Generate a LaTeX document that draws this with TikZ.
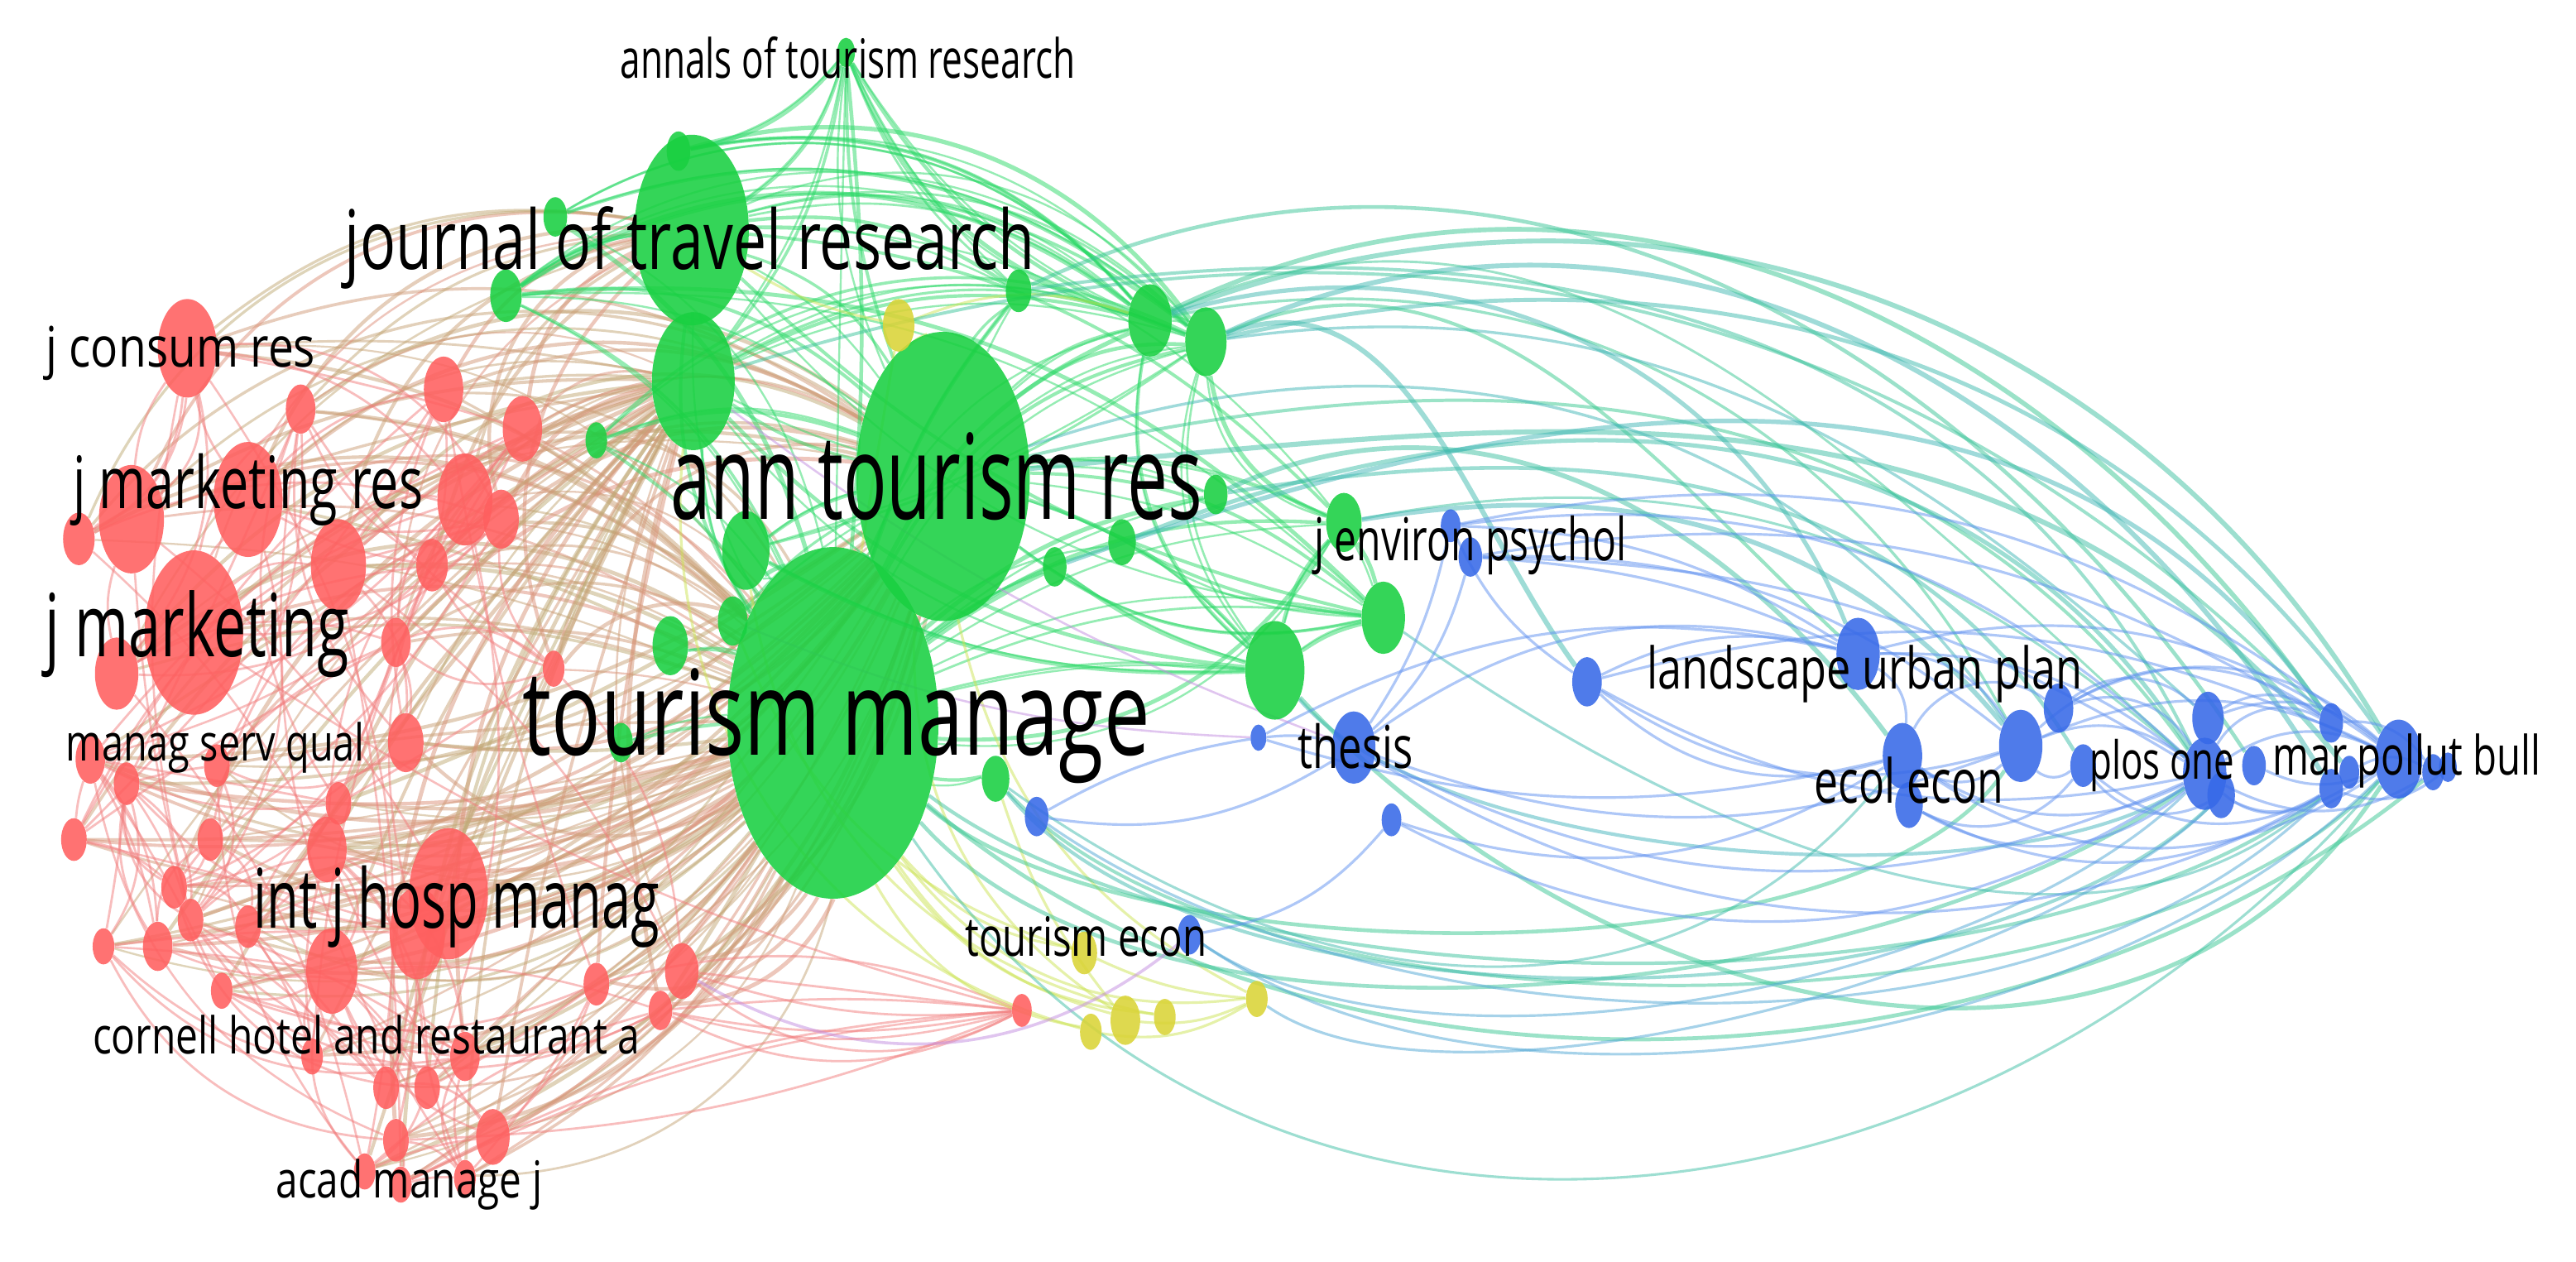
\documentclass[tikz,border=0pt]{standalone}
\usepackage{fontspec}
\setmainfont{Open Sans}
\usetikzlibrary{shapes.geometric}
\pgfdeclarelayer{bg}
\pgfsetlayers{bg,main}
\definecolor{nred}{RGB}{255,95,95}
\definecolor{ngreen}{RGB}{25,208,65}
\definecolor{nblue}{RGB}{55,105,232}
\definecolor{nyellow}{RGB}{218,212,55}
\definecolor{ered}{RGB}{242,125,125}
\definecolor{etan}{RGB}{180,180,115}
\definecolor{egreen}{RGB}{45,218,105}
\definecolor{eteal}{RGB}{70,175,200}
\definecolor{eblue}{RGB}{95,145,240}
\definecolor{eyel}{RGB}{205,228,85}
\definecolor{epurp}{RGB}{195,140,225}
\tikzset{
  vn/.style={ellipse, inner sep=0pt, draw=none, fill opacity=0.88},
  ed/.style={line width=1.6pt, draw opacity=0.5},
  lab/.style={inner sep=0pt, text=black},
}
\newcommand\vn[5]{\node[vn,fill=#5,minimum width={1.2*#4pt},minimum height={2*#4pt}] (#1) at (#2,#3) {};}
\newcommand\lab[6]{\node[lab] (#1) at (#2,#3) {\resizebox{#5pt}{\height}{\fontsize{#4}{#4}\selectfont #6}};}
\begin{document}
\begin{tikzpicture}[x=1pt,y=-1pt]
\useasboundingbox (0,0) rectangle (1568,768);
% ---------- green nodes
\vn{TM}{507}{440}{107}{ngreen}
\vn{ATR}{574}{290}{88}{ngreen}
\vn{JTR}{421}{140}{58}{ngreen}
\vn{JT2}{422}{232}{42}{ngreen}
\vn{AN}{515}{32}{9}{ngreen}
\vn{G1}{308}{180}{16}{ngreen}
\vn{G2}{363}{268}{11}{ngreen}
\vn{G3}{454}{335}{24}{ngreen}
\vn{G4}{408}{393}{18}{ngreen}
\vn{G5}{446}{378}{15}{ngreen}
\vn{G6}{620}{177}{13}{ngreen}
\vn{G7}{700}{195}{22}{ngreen}
\vn{G8}{734}{208}{21}{ngreen}
\vn{G9}{740}{301}{12}{ngreen}
\vn{G10}{683}{330}{14}{ngreen}
\vn{G11}{642}{345}{12}{ngreen}
\vn{G12}{606}{474}{14}{ngreen}
\vn{G13}{776}{408}{30}{ngreen}
\vn{G14}{842}{376}{22}{ngreen}
\vn{G15}{818}{318}{18}{ngreen}
\vn{G16}{378}{452}{12}{ngreen}
\vn{G17}{413}{92}{12}{ngreen}
\vn{G18}{338}{132}{12}{ngreen}
% ---------- yellow nodes
\vn{Y1}{547}{198}{16}{nyellow}
\vn{Y2}{660}{580}{13}{nyellow}
\vn{Y3}{664}{628}{11}{nyellow}
\vn{Y4}{685}{621}{15}{nyellow}
\vn{Y5}{709}{619}{11}{nyellow}
\vn{Y6}{765}{608}{11}{nyellow}
% ---------- blue nodes
\vn{B1}{883}{320}{10}{nblue}
\vn{B2}{895}{339}{12}{nblue}
\vn{B3}{966}{415}{15}{nblue}
\vn{B4}{824}{455}{22}{nblue}
\vn{B5}{847}{499}{10}{nblue}
\vn{B6}{766}{449}{8}{nblue}
\vn{B7}{631}{497}{12}{nblue}
\vn{B8}{724}{569}{12}{nblue}
\vn{B9}{1131}{398}{22}{nblue}
\vn{B10}{1158}{460}{20}{nblue}
\vn{B11}{1162}{490}{14}{nblue}
\vn{B12}{1230}{454}{22}{nblue}
\vn{B13}{1253}{431}{15}{nblue}
\vn{B14}{1268}{466}{13}{nblue}
\vn{B15}{1344}{437}{16}{nblue}
\vn{B16}{1342}{471}{22}{nblue}
\vn{B17}{1352}{484}{14}{nblue}
\vn{B18}{1372}{466}{12}{nblue}
\vn{B19}{1419}{440}{12}{nblue}
\vn{B20}{1419}{480}{12}{nblue}
\vn{B21}{1430}{470}{10}{nblue}
\vn{B22}{1460}{462}{24}{nblue}
\vn{B23}{1481}{470}{11}{nblue}
\vn{B24}{1490}{467}{9}{nblue}
% ---------- red nodes
\vn{R5}{118}{385}{50}{nred}
\vn{R29}{273}{544}{40}{nred}
\vn{R3}{151}{304}{35}{nred}
\vn{R2}{80}{316}{33}{nred}
\vn{R1}{114}{212}{30}{nred}
\vn{R30}{254}{568}{28}{nred}
\vn{R7}{206}{344}{28}{nred}
\vn{R8}{283}{304}{28}{nred}
\vn{R31}{202}{591}{26}{nred}
\vn{R6}{71}{410}{22}{nred}
\vn{R9}{270}{237}{20}{nred}
\vn{R10}{318}{261}{20}{nred}
\vn{R28}{199}{517}{20}{nred}
\vn{R12}{305}{316}{18}{nred}
\vn{R15}{247}{452}{18}{nred}
\vn{R4}{48}{328}{16}{nred}
\vn{R13}{263}{344}{16}{nred}
\vn{R11}{183}{249}{15}{nred}
\vn{R14}{241}{391}{15}{nred}
\vn{R20}{55}{462}{15}{nred}
\vn{R24}{96}{576}{15}{nred}
\vn{R32}{283}{643}{15}{nred}
\vn{R37}{300}{692}{17}{nred}
\vn{R43}{415}{591}{17}{nred}
\vn{R16}{337}{407}{11}{nred}
\vn{R17}{206}{489}{13}{nred}
\vn{R18}{128}{511}{13}{nred}
\vn{R19}{45}{511}{13}{nred}
\vn{R21}{77}{477}{13}{nred}
\vn{R22}{132}{466}{13}{nred}
\vn{R23}{106}{540}{13}{nred}
\vn{R25}{63}{576}{11}{nred}
\vn{R26}{151}{564}{13}{nred}
\vn{R27}{116}{560}{13}{nred}
\vn{R33}{235}{662}{13}{nred}
\vn{R34}{260}{662}{13}{nred}
\vn{R35}{190}{643}{11}{nred}
\vn{R36}{241}{694}{13}{nred}
\vn{R38}{222}{713}{11}{nred}
\vn{R39}{244}{721}{11}{nred}
\vn{R40}{283}{717}{11}{nred}
\vn{R41}{135}{603}{11}{nred}
\vn{R42}{363}{599}{13}{nred}
\vn{R44}{402}{615}{12}{nred}
\vn{R45}{622}{615}{10}{nred}
% ================= edges
\begin{pgfonlayer}{bg}
\fill[white] (0,0) rectangle (1568,768);
\pgfmathsetseed{31}
% red -> green hubs (upper red nodes)
\foreach \ra in {1,2,3,4,5,6,7,8,9,10,11,12,13,14,16}{
  \foreach \tg/\lo/\hi in {TM/15/40,ATR/20/45,JTR/20/45,JT2/5/30,TM/5/25}{
    \pgfmathsetmacro\bb{\lo+(\hi-\lo)*rnd}
    \pgfmathsetmacro\lw{1.1+1.4*rnd}
    \pgfmathtruncatemacro\mm{15+55*rnd}
    \draw[ed,ered!\mm!etan,line width=\lw pt] (R\ra) to[bend left=\bb] (\tg);
  }
}
% red -> green hubs (lower red nodes)
\foreach \ra in {15,17,18,19,20,21,22,23,24,25,26,27,28,29,30,31,32,33,34,35,36,37,38,39,40,41,42,43,44}{
  \foreach \tg/\lo/\hi in {TM/-40/-10,ATR/-30/-5,JT2/0/25,TM/-20/5}{
    \pgfmathsetmacro\bb{\lo+(\hi-\lo)*rnd}
    \pgfmathsetmacro\lw{1.1+1.4*rnd}
    \pgfmathtruncatemacro\mm{15+55*rnd}
    \draw[ed,ered!\mm!etan,line width=\lw pt] (R\ra) to[bend left=\bb] (\tg);
  }
}
% red - red
\foreach \ra in {1,...,45}{
  \foreach \k in {1,2,3}{
    \pgfmathtruncatemacro\jj{max(1,min(45,\ra+int(22*rnd)-11))}
    \pgfmathsetmacro\bb{-35+70*rnd}
    \ifnum\jj=\ra\relax\else
      \draw[ed,ered,line width=1.4pt] (R\ra) to[bend left=\bb] (R\jj);
    \fi
  }
  \pgfmathtruncatemacro\jj{1+int(44.99*rnd)}
  \pgfmathsetmacro\bb{-30+60*rnd}
  \ifnum\jj=\ra\relax\else
    \draw[ed,ered,line width=1.3pt] (R\ra) to[bend left=\bb] (R\jj);
  \fi
}
% green - green
\foreach \a/\b/\c in {TM/ATR/15,TM/JTR/20,TM/JT2/15,ATR/JTR/-20,ATR/JT2/10,JTR/JT2/0,
  AN/JTR/20,AN/JT2/15,AN/ATR/-10,AN/G6/-15,AN/G7/-25,AN/TM/5,AN/G17/20,AN/G8/-20,
  G1/TM/20,G1/ATR/25,G1/JTR/15,G1/G7/35,G1/G8/35,G18/G8/30,G18/TM/20,G17/G7/30,
  JTR/G7/25,JTR/G8/30,JTR/G6/20,JT2/G7/20,JT2/G8/25,G2/TM/10,G2/ATR/20,G3/ATR/10,
  G3/TM/10,G4/TM/10,G5/TM/0,G5/ATR/10,G6/TM/-10,G6/ATR/-10,G7/TM/-20,G7/ATR/-15,
  G8/TM/-25,G8/ATR/-20,G9/TM/-15,G9/ATR/-10,G10/TM/-10,G11/TM/-5,G12/TM/10,
  G13/TM/-10,G13/ATR/-15,G14/TM/-15,G14/ATR/-20,G15/ATR/-15,G15/TM/-20,G16/TM/5,
  G13/G14/10,G15/G14/10,G13/G15/15,G7/G8/20,G8/G15/-30,G7/G13/-30,G8/G13/-25,
  G18/G7/40,G17/G8/35,JTR/G14/-15,JT2/G13/-20,G1/G14/25,ATR/G14/-25,TM/G15/-30,
  G3/G13/-15,G11/G13/-10,G10/G14/-10,JTR/G15/20,G2/G8/35,G3/G8/-10}{
  \pgfmathsetmacro\lw{1.2+1.5*rnd}
  \draw[ed,egreen,line width=\lw pt] (\a) to[bend left=\c] (\b);
  \pgfmathsetmacro\bb{\c+15*rnd-7}
  \draw[ed,egreen,line width=1.2pt] (\a) to[bend left=\bb] (\b);
}
% yellow edges
\foreach \a/\b/\c in {Y1/TM/0,Y1/ATR/10,Y1/JTR/10,Y1/G7/20,TM/Y2/-20,TM/Y3/-25,TM/Y4/-20,
  TM/Y5/-25,TM/Y6/-30,ATR/Y4/-30,ATR/Y6/-25,G12/Y4/-10,Y2/Y6/-10,Y4/Y6/-15,G3/Y5/-35,
  JT2/Y3/-40,G5/Y2/-25,Y3/Y6/-20}{
  \draw[ed,eyel,line width=1.6pt] (\a) to[bend left=\c] (\b);
}
% green -> blue upper arcs
\foreach \a/\b in {G7/B22,G7/B16,G7/B19,G7/B12,G8/B22,G8/B15,G8/B20,G8/B9,G6/B18,G6/B16,
  ATR/B21,ATR/B16,ATR/B12,G9/B14,G9/B10,G10/B16,G11/B19,
  G15/B16,G15/B12,JT2/B19,G8/B3,G7/B9}{
  \pgfmathsetmacro\oo{5+22*rnd}
  \pgfmathsetmacro\ii{112+30*rnd}
  \pgfmathsetmacro\lw{1.4+1.8*rnd}
  \pgfmathtruncatemacro\mm{35+55*rnd}
  \draw[ed,eteal!\mm!egreen,line width=\lw pt] (\a) to[out=\oo,in=\ii] (\b);
}
% green -> blue lower arcs
\foreach \a/\b in {TM/B22,TM/B20,TM/B16,TM/B23,G12/B22,G12/B17,G13/B16,G13/B22,
  G14/B20,G12/B10,TM/B12}{
  \pgfmathsetmacro\oo{-30-30*rnd}
  \pgfmathsetmacro\ii{-120-30*rnd}
  \pgfmathsetmacro\lo{0.6+0.5*rnd}
  \pgfmathsetmacro\lw{1.4+1.4*rnd}
  \pgfmathtruncatemacro\mm{40+50*rnd}
  \draw[ed,eteal!\mm!egreen,line width=\lw pt] (\a) to[out=\oo,in=\ii,looseness=\lo] (\b);
}
\foreach \a/\b/\lo in {B7/B20/0.8,B8/B16/0.7,Y6/B17/0.6,B8/B22/0.8}{
  \draw[ed,eteal!70!eblue,line width=1.6pt] (\a) to[out=-35,in=-135,looseness=\lo] (\b);
}
% blue - blue
\foreach \a/\b/\c in {B1/B22/25,B1/B16/25,B2/B19/20,B2/B12/20,B1/B9/15,B2/B9/10,B3/B9/20,
  B3/B12/-25,B3/B10/-30,B3/B16/-20,B4/B1/-10,B4/B2/-15,B4/B9/25,B4/B12/-20,B4/B16/-25,
  B4/B22/-30,B5/B10/-25,B5/B16/-30,B6/B4/10,B6/B9/20,B7/B4/-20,B8/B5/-20,B9/B10/30,
  B9/B16/20,B9/B22/25,B9/B12/30,B10/B12/-40,B10/B16/-30,B10/B22/-35,B11/B14/-40,
  B11/B20/-30,B12/B16/30,B12/B22/25,B12/B19/40,B13/B16/40,B13/B22/35,B14/B17/-40,
  B14/B20/-35,B15/B22/30,B15/B19/35,B16/B22/30,B16/B23/-30,B17/B20/-30,B18/B22/-25,
  B19/B23/30,B20/B24/-30,B21/B23/30,B16/B19/45,B12/B14/-40,B10/B13/50,B11/B16/-35,
  B16/B20/-40,B13/B15/40,B3/B22/20,B2/B16/15,B1/B3/-15,B7/B6/10,B6/B10/-15}{
  \draw[ed,eblue,line width=1.6pt] (\a) to[bend left=\c] (\b);
}
% purple / pink
\draw[ed,epurp,line width=1.8pt] (R43) to[bend right=35] (B8);
\draw[ed,epurp,line width=1.3pt] (JT2) to[bend left=-8] (B4);
\draw[ed,epurp,line width=1.3pt] (G5) to[bend left=-10] (B6);
\draw[ed,ered,line width=1.3pt] (R44) to[bend right=15] (R45);
\end{pgfonlayer}
% ================= labels
\lab{tAN}{516}{35}{33}{277}{annals of tourism research}
\lab{tJTR}{420}{151}{50}{420}{journal of travel research}
\lab{tJCR}{110}{215}{34}{164}{j consum res}
\lab{tJMR}{151}{298}{44}{213}{j marketing res}
\lab{tJM}{120}{386}{53}{185}{j marketing}
\lab{tMSQ}{131}{455}{31}{182}{manag serv qual}
\lab{tIJH}{278}{552}{50}{247}{int j hosp manag}
\lab{tCOR}{223}{630}{31}{333}{cornell hotel and restaurant a}
\lab{tAMJ}{249}{721}{31}{162}{acad manage j}
\lab{tATR}{570}{290}{72}{324}{ann tourism res}
\lab{tTM}{509}{442}{72}{382}{tourism manage}
\lab{tJEP}{895}{332}{36}{190}{j environ psychol}
\lab{tTH}{825}{454}{36}{70}{thesis}
\lab{tTE}{661}{570}{33}{147}{tourism econ}
\lab{tLUP}{1135}{410}{35}{265}{landscape urban plan}
\lab{tEE}{1162}{475}{37}{115}{ecol econ}
\lab{tPO}{1316}{466}{32}{88}{plos one}
\lab{tMPB}{1465}{463}{33}{163}{mar pollut bull}
\end{tikzpicture}
\end{document}
